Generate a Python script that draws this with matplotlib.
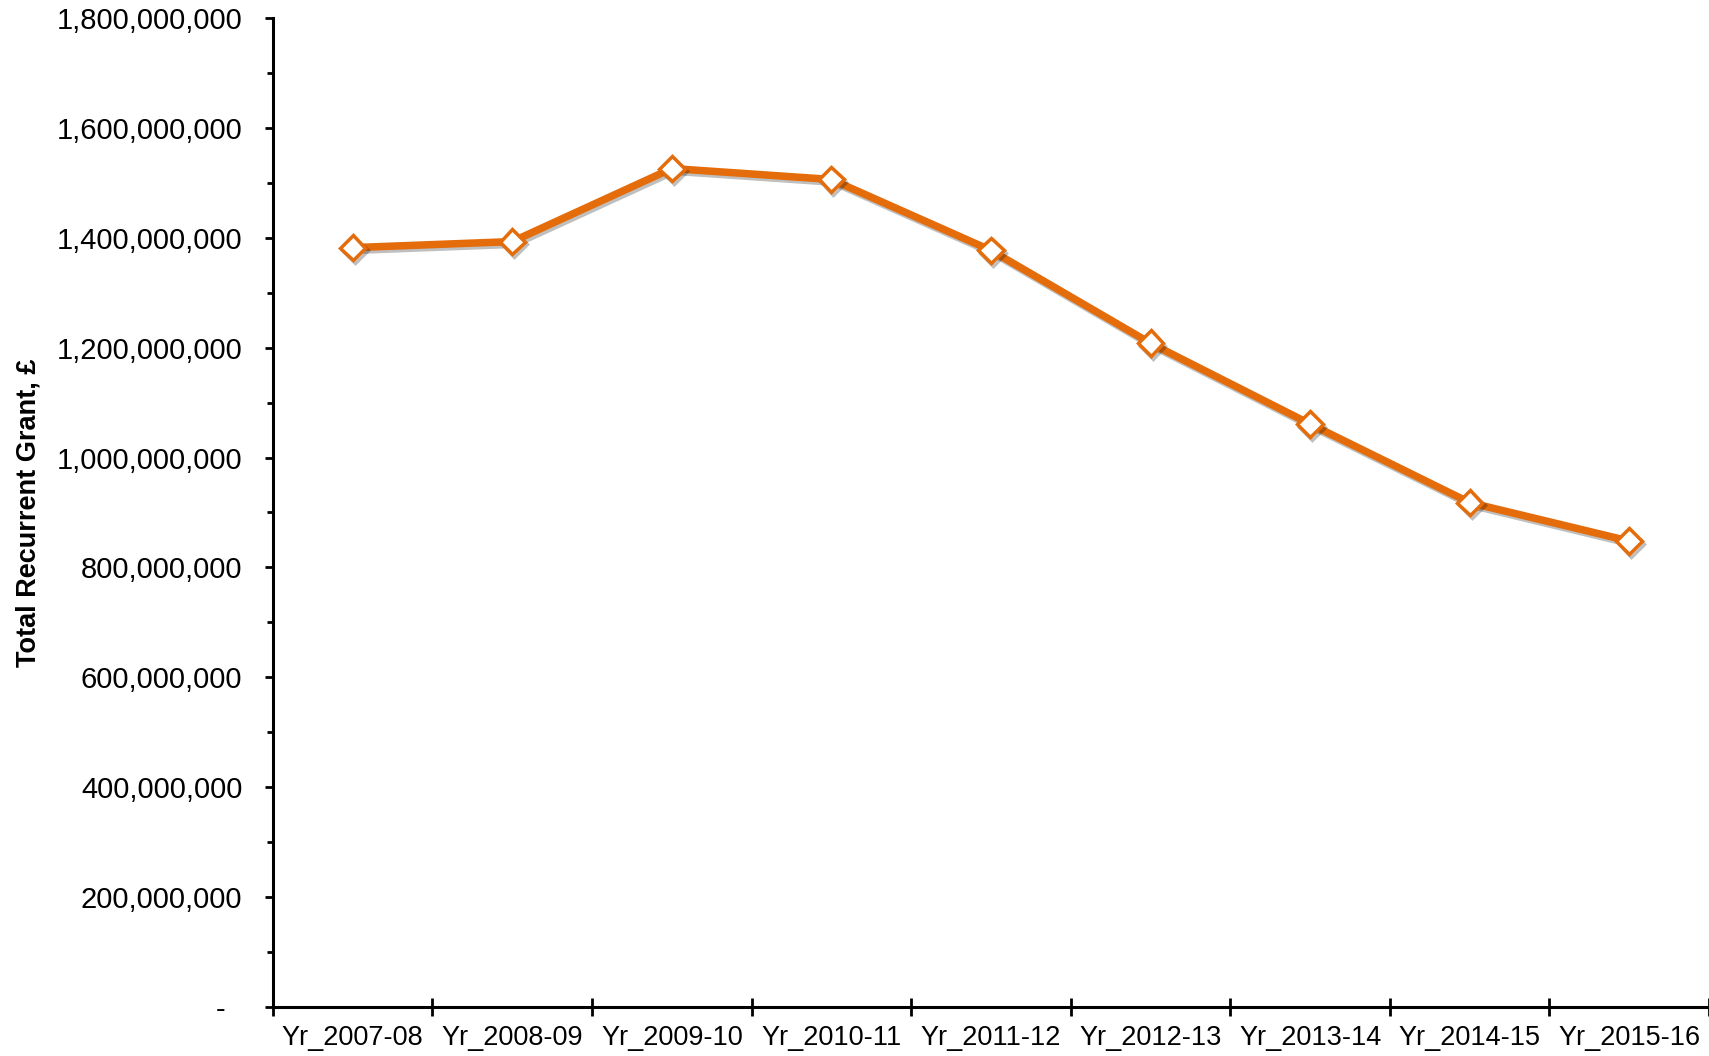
import numpy as np
import matplotlib.pyplot as plt
import matplotlib.ticker as mticker
import matplotlib.patheffects as pe

# ===== data =====
years = ["Yr_2007-08", "Yr_2008-09", "Yr_2009-10", "Yr_2010-11", "Yr_2011-12",
         "Yr_2012-13", "Yr_2013-14", "Yr_2014-15", "Yr_2015-16"]
grant = [1382e6, 1393e6, 1526e6, 1506e6, 1377e6, 1208e6, 1061e6, 918e6, 848e6]

orange = "#E46C0A"

plt.rcParams['font.family'] = ['Liberation Sans', 'DejaVu Sans']

fig = plt.figure(figsize=(17.09, 10.56), dpi=100)
ax = fig.add_axes([0.1597, 0.0464, 0.8403, 0.9366])

x = np.arange(len(years))
ax.plot(x, grant, color=orange, linewidth=5.4, marker='D', markersize=13,
        markerfacecolor='white', markeredgecolor=orange, markeredgewidth=2.5,
        path_effects=[pe.SimpleLineShadow(offset=(1.5, -2), alpha=0.25),
                      pe.Normal()])

# ===== axes =====
ax.set_xlim(-0.5, len(years) - 0.5)
ax.set_ylim(0, 1.8e9)

ax.spines['top'].set_visible(False)
ax.spines['right'].set_visible(False)
ax.spines['left'].set_linewidth(2.2)
ax.spines['bottom'].set_linewidth(2.2)

ax.yaxis.set_major_locator(mticker.MultipleLocator(2e8))
ax.yaxis.set_minor_locator(mticker.MultipleLocator(1e8))
ax.yaxis.set_major_formatter(
    mticker.FuncFormatter(lambda v, p: "-  " if v == 0 else f"{v:,.0f}"))
ax.tick_params(axis='y', which='major', direction='out', length=6, width=2,
               labelsize=21, pad=16)
ax.tick_params(axis='y', which='minor', direction='out', length=4, width=2)

# category boundaries as major ticks, labels at centres
ax.set_xticks(np.arange(-0.5, len(years), 1.0))
ax.set_xticklabels([])
ax.set_xticks(x, minor=True)
ax.set_xticklabels(years, minor=True)
ax.tick_params(axis='x', which='major', direction='inout', length=13, width=2)
ax.tick_params(axis='x', which='minor', length=0, labelsize=19.5, pad=13)

ax.set_ylabel("Total Recurrent Grant, £", fontsize=19.5, fontweight='bold')
ax.yaxis.set_label_coords(-0.161, 0.5)

fig.savefig("out.png", dpi=100)
